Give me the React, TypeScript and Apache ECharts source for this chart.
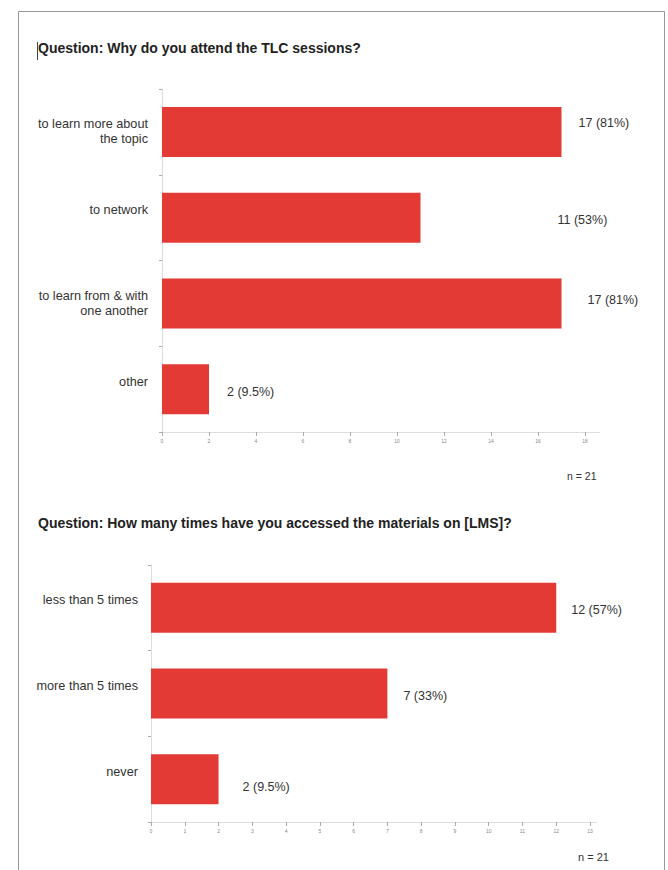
import React, { useEffect, useRef } from "react";
import * as echarts from "echarts";

// ---- data ----
const q1Title = "Question: Why do you attend the TLC sessions?";
const q1Categories = ["to learn more about\nthe topic", "to network", "to learn from & with\none another", "other"];
const q1Values = [17, 11, 17, 2];
const q1Labels = ["17 (81%)", "11 (53%)", "17 (81%)", "2 (9.5%)"];
const q1Ticks = [0, 2, 4, 6, 8, 10, 12, 14, 16, 18];

const q2Title = "Question: How many times have you accessed the materials on [LMS]?";
const q2Categories = ["less than 5 times", "more than 5 times", "never"];
const q2Values = [12, 7, 2];
const q2Labels = ["12 (57%)", "7 (33%)", "2 (9.5%)"];
const q2Ticks = [0, 1, 2, 3, 4, 5, 6, 7, 8, 9, 10, 11, 12, 13];

const nText = "n = 21";

// ---- layout / style (not data) ----
const q1LabelOffsets: [number, number][] = [[12, -9], [132, 2], [21, -3], [13, 3]];
const q2LabelOffsets: [number, number][] = [[10, 2], [11, 2], [19, 8]];
const RED = "#e33a35";
const FONT = "'Liberation Sans', Arial, sans-serif";

function catLabel(v: string) {
  return v.includes("\n") ? v : v + "\n ";
}

export default function App() {
  const ref = useRef<HTMLDivElement>(null);
  useEffect(() => {
    if (!ref.current) return;
    const chart = echarts.init(ref.current, null, { renderer: "svg" });

    const yAxisCommon = {
      type: "category" as const,
      inverse: true,
      axisLine: { show: true, lineStyle: { color: "#ddd", width: 1 } },
      axisTick: { show: true, length: 3, lineStyle: { color: "#aaa" } },
      axisLabel: {
        color: "#333",
        fontSize: 12.7,
        fontFamily: FONT,
        lineHeight: 15,
        align: "right" as const,
        formatter: catLabel,
      },
    };
    const xAxisCommon = {
      type: "value" as const,
      min: 0,
      splitLine: { show: false },
      axisLine: { show: true, lineStyle: { color: "#ddd", width: 1 } },
      axisTick: { show: true, length: 4, lineStyle: { color: "#aaa" } },
      axisLabel: { color: "#888", fontSize: 5, fontFamily: FONT, margin: 6 },
    };

    const valueLabel = {
      show: true,
      position: "right",
      distance: 5,
      color: "#333",
      fontSize: 12.5,
      fontFamily: FONT,
    };

    chart.setOption({
      animation: false,
      backgroundColor: "#fff",
      textStyle: { fontFamily: FONT },
      grid: [
        { left: 162, right: 83, top: 89, height: 343 },
        { left: 151, right: 78, top: 565, height: 257 },
      ],
      xAxis: [
        { ...xAxisCommon, gridIndex: 0, max: q1Ticks[q1Ticks.length - 1], interval: q1Ticks[1] - q1Ticks[0] },
        { ...xAxisCommon, gridIndex: 1, max: q2Ticks[q2Ticks.length - 1], interval: q2Ticks[1] - q2Ticks[0] },
      ],
      yAxis: [
        { ...yAxisCommon, gridIndex: 0, data: q1Categories, axisLabel: { ...yAxisCommon.axisLabel, margin: 14 } },
        { ...yAxisCommon, gridIndex: 1, data: q2Categories, axisLabel: { ...yAxisCommon.axisLabel, margin: 13 } },
      ],
      series: [
        {
          type: "bar",
          xAxisIndex: 0,
          yAxisIndex: 0,
          barWidth: 50,
          itemStyle: { color: RED },
          data: q1Values.map((v, i) => ({
            value: v,
            label: { ...valueLabel, offset: q1LabelOffsets[i], formatter: q1Labels[i] },
          })),
        },
        {
          type: "bar",
          xAxisIndex: 1,
          yAxisIndex: 1,
          barWidth: 50,
          itemStyle: { color: RED },
          data: q2Values.map((v, i) => ({
            value: v,
            label: { ...valueLabel, offset: q2LabelOffsets[i], formatter: q2Labels[i] },
          })),
        },
      ],
      graphic: [
        {
          type: "rect",
          shape: { x: 18.5, y: 11.5, width: 646, height: 900 },
          style: { fill: "none", stroke: "#999", lineWidth: 1 },
          silent: true,
        },
        {
          type: "line",
          shape: { x1: 37.5, y1: 42, x2: 37.5, y2: 60 },
          style: { stroke: "#444", lineWidth: 1 },
        },
        {
          type: "text",
          left: 38,
          top: 41,
          style: { text: q1Title, font: `bold 14px ${FONT}`, fill: "#222" },
        },
        {
          type: "text",
          left: 38,
          top: 516,
          style: { text: q2Title, font: `bold 14px ${FONT}`, fill: "#222" },
        },
        {
          type: "line",
          shape: { x1: 585, y1: 432.5, x2: 600, y2: 432.5 },
          style: { stroke: "#ddd", lineWidth: 1 },
        },
        {
          type: "line",
          shape: { x1: 590, y1: 822.5, x2: 597, y2: 822.5 },
          style: { stroke: "#ddd", lineWidth: 1 },
        },
        {
          type: "text",
          left: 567,
          top: 470,
          style: { text: nText, font: `10.5px ${FONT}`, fill: "#333" },
        },
        {
          type: "text",
          left: 578,
          top: 851,
          style: { text: nText, font: `11px ${FONT}`, fill: "#333" },
        },
      ],
    });
    return () => chart.dispose();
  }, []);
  return (
    <div
      ref={ref}
      style={{ position: "absolute", left: 0, top: 0, width: 668, height: 870 }}
    />
  );
}
